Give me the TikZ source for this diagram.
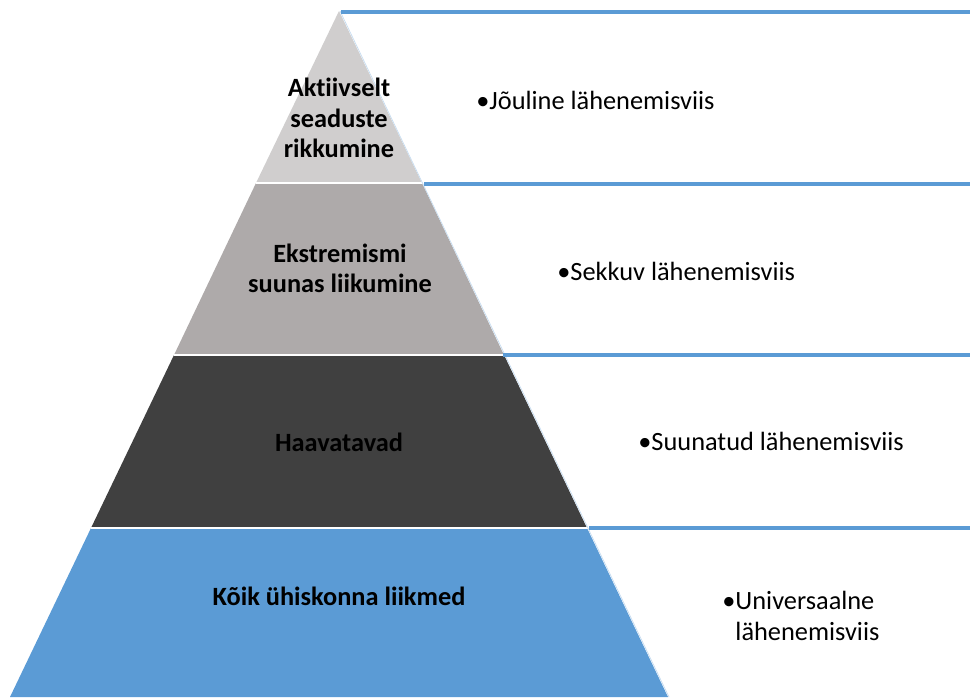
\documentclass[tikz,border=0pt]{standalone}
\usepackage{fontspec}
\setmainfont{Carlito}[Ligatures=NoCommon]
\usepackage{tikz}
\usetikzlibrary{positioning}

\definecolor{lvlone}{HTML}{D0CECE}
\definecolor{lvltwo}{HTML}{AEAAAA}
\definecolor{lvlthree}{HTML}{404040}
\definecolor{lvlfour}{HTML}{5B9BD5}

\begin{document}
\begin{tikzpicture}
				[x=0.02cm, y=-0.02cm,
				level/.style={font=\fontsize{15}{17.2}\selectfont\bfseries, align=center, text=black},
				approach/.style={font=\fontsize{15}{17.2}\selectfont, align=left, anchor=west, inner sep=0pt},
				rule/.style={draw=lvlfour, line width=2.5pt},
				gap/.style={draw=white, line width=1.6pt}]
				\useasboundingbox (0,0) rectangle (970,697);
				% layers, bottom to top
				\fill[lvlfour] (10,697) -- (91,528) -- (587,528) -- (668,697) -- cycle;
				\fill[lvlthree] (91,528) -- (174,355) -- (504,355) -- (587,528) -- cycle;
				\fill[lvltwo] (174,355) -- (256,183) -- (422,183) -- (504,355) -- cycle;
				\fill[lvlone] (256,183) -- (339,11) -- (422,183) -- cycle;
				\draw[gap] (256,183) -- (424,183);
				\draw[gap] (174,355) -- (506,355);
				\draw[gap] (91,528) -- (589,528);
				\draw[draw=lvlfour!35, line width=0.4pt] (340,11) -- (669,697);
				% separators
				\coordinate (r0) at (341,12);
				\coordinate (r1) at (424,184);
				\coordinate (r2) at (503,355);
				\coordinate (r3) at (589,528);
				\draw[rule] (r0) -- (970,12);
				\draw[rule] (r1) -- (970,184);
				\draw[rule] (r2) -- (970,355);
				\draw[rule] (r3) -- (970,528);
				% level names
				\node[level] (aktiiv) at (339,118) {Aktiivselt\\seaduste\\rikkumine};
				\node[level] (ekstrem) at (340,268) {Ekstremismi\\suunas liikumine};
				\node[level] (haav) at (339,442) {Haavatavad};
				\node[level] (koik) at (339,596) {Kõik ühiskonna liikmed};
				% approaches
				\node[approach] (joul) at (476,100) {•Jõuline lähenemisviis};
				\node[approach] (sekk) at (557,271) {•Sekkuv lähenemisviis};
				\node[approach] (suun) at (638,441) {•Suunatud lähenemisviis};
				\node[approach] (univ) at (722,616) {•Universaalne\\\hphantom{•}lähenemisviis};
			\end{tikzpicture}
\end{document}
